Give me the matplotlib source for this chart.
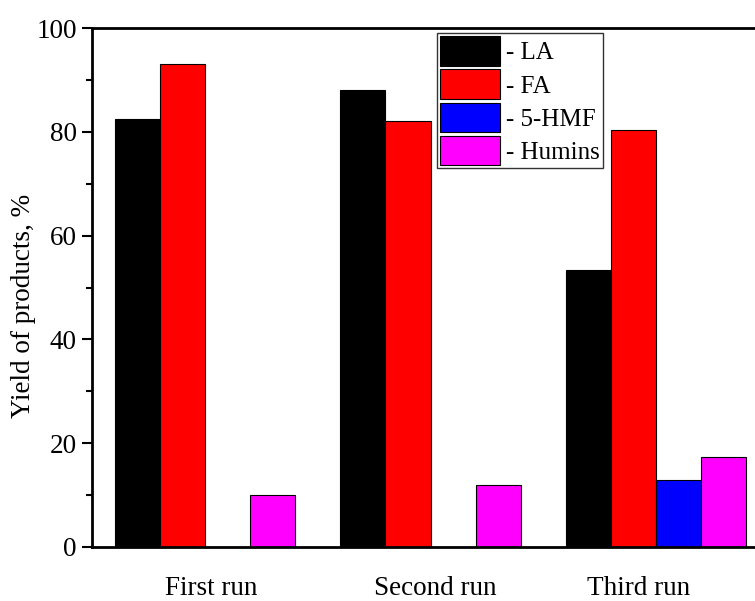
import numpy as np
import matplotlib.pyplot as plt
from matplotlib.ticker import MultipleLocator

# --- data ---
runs = ['First run', 'Second run', 'Third run']
series = ['- LA', '- FA', '- 5-HMF', '- Humins']
la = [82.5, 88.0, 53.3]
fa = [93.0, 82.0, 80.4]
hmf = [0.0, 0.0, 13.0]
humins = [10.0, 12.0, 17.3]
colors = ['#000000', '#ff0000', '#0000ff', '#ff00ff']

plt.rcParams['font.family'] = ['Liberation Serif', 'DejaVu Serif']

fig = plt.figure(figsize=(7.55, 6.01), dpi=100)
ax = fig.add_axes([92/755, 1 - 547/601, 677/755, 519/601])

x = np.arange(len(runs))
w = 0.2
for j, (vals, name, c) in enumerate(zip([la, fa, hmf, humins], series, colors)):
    ax.bar(x + (j - 1.5) * w, vals, width=w, color=c, edgecolor='black',
           linewidth=0.8, label=name)

ax.set_xlim(-0.5, 2.5)
ax.set_ylim(0, 100)
ax.yaxis.set_major_locator(MultipleLocator(20))
ax.yaxis.set_minor_locator(MultipleLocator(10))
ax.tick_params(axis='y', which='major', direction='out', length=7, width=1.5,
               labelsize=19.5, pad=4)
ax.tick_params(axis='y', which='minor', direction='out', length=4, width=1.5)
ax.set_xticks([0.03, 1.02, 1.92])
ax.set_xticklabels(runs)
ax.tick_params(axis='x', length=0, labelsize=19.5, pad=21)
for s in ax.spines.values():
    s.set_linewidth(2)

ax.set_ylabel('Yield of products, %', fontsize=19.5)
ax.yaxis.set_label_coords(-0.082, 0.465)

leg = ax.legend(loc='upper left', bbox_to_anchor=(0.509, 0.99), fontsize=18,
                frameon=True, fancybox=False, edgecolor='black',
                handlelength=2.4, handleheight=1.45, labelspacing=0.14,
                handletextpad=0.25, borderpad=0.12, borderaxespad=0)
leg.get_frame().set_linewidth(1.0)

fig.savefig('out.png', dpi=100)
